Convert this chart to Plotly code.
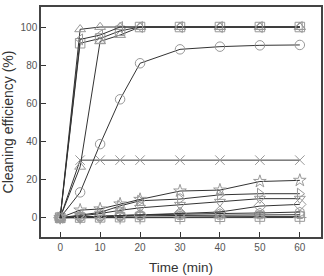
import plotly.graph_objects as go

time_min = [0, 5, 10, 15, 20, 30, 40, 50, 60]

s_triangle_up = [0, 98.8, 100, 100, 100, 100, 100, 100, 100]
s_triangle_left = [0, 93.5, 95.8, 100, 100, 100, 100, 100, 100]
s_square = [0, 91.5, 94.0, 98.0, 100, 100, 100, 100, 100]
s_triangle_up2 = [0, 26.7, 92.5, 95.8, 100, 100, 100, 100, 100]
s_circle = [0, 13.3, 38.6, 62.1, 81.0, 88.3, 89.7, 90.4, 90.6]
s_x = [0, 30.2, 30.2, 30.2, 30.2, 30.2, 30.2, 30.2, 30.2]
s_star = [0, 4.0, 4.6, 7.2, 9.6, 14.0, 14.5, 19.0, 19.6]
s_triangle_right = [0, 1.4, 2.8, 6.2, 8.9, 9.8, 12.0, 12.6, 12.6]
s_triangle_down = [0, 0.9, 2.2, 3.9, 5.2, 6.8, 8.4, 10.0, 10.0]
s_diamond = [0, 0.4, 0.6, 1.0, 1.5, 2.3, 3.0, 6.1, 7.0]
s_hexagon = [0, 0.5, 1.0, 1.2, 1.5, 2.0, 2.2, 2.5, 3.0]
s_pentagon = [0, 0.3, 0.5, 0.7, 1.0, 1.2, 1.3, 1.5, 1.6]
s_square2 = [0, 0.1, 0.2, 0.3, 0.4, 0.5, 0.5, 0.6, 0.6]
s_cross = [0, 0.0, 0.0, 0.0, 0.0, 0.0, 0.0, 0.0, 0.1]

series = [
    (s_cross, "cross-thin-open"),
    (s_square2, "square-open"),
    (s_pentagon, "pentagon-open"),
    (s_hexagon, "hexagon-open"),
    (s_diamond, "diamond-open"),
    (s_triangle_down, "triangle-down-open"),
    (s_triangle_right, "triangle-right-open"),
    (s_star, "star-open"),
    (s_x, "x-thin-open"),
    (s_circle, "circle-open"),
    (s_triangle_up2, "triangle-up-open"),
    (s_square, "square-open"),
    (s_triangle_up, "triangle-up-open"),
    (s_triangle_left, "triangle-left-open"),
]

fig = go.Figure()
for ys, sym in series:
    fig.add_trace(go.Scatter(
        x=time_min, y=ys, mode="lines+markers",
        line=dict(color="#333333", width=1),
        marker=dict(symbol=sym, size=9.5, color="#999999",
                    line=dict(color="#999999", width=1)),
        showlegend=False,
    ))

fig.update_layout(
    width=324, height=276,
    margin=dict(l=41, r=1, t=7, b=39),
    paper_bgcolor="white", plot_bgcolor="white",
    font=dict(family="Liberation Sans, Arial, sans-serif", color="#444444"),
)
fig.update_xaxes(
    range=[-4.8, 65.3], tickvals=[0, 10, 20, 30, 40, 50, 60],
    ticks="inside", ticklen=5, tickcolor="#333333",
    showline=True, linecolor="#444444", linewidth=1.5, mirror=True,
    showgrid=False, zeroline=False, tickfont=dict(size=10, color="#555555"),
    title=dict(text="Time (min)", font=dict(size=13.5, color="#333333"), standoff=11),
)
fig.update_yaxes(
    range=[-10.1, 110.5], tickvals=[0, 20, 40, 60, 80, 100],
    ticks="inside", ticklen=5, tickcolor="#333333",
    showline=True, linecolor="#444444", linewidth=1.5, mirror=True,
    showgrid=False, zeroline=False, tickfont=dict(size=10, color="#555555"),
    title=dict(text="Cleaning efficiency (%)", font=dict(size=14, color="#333333"), standoff=5),
)
fig.write_html("out.html")
